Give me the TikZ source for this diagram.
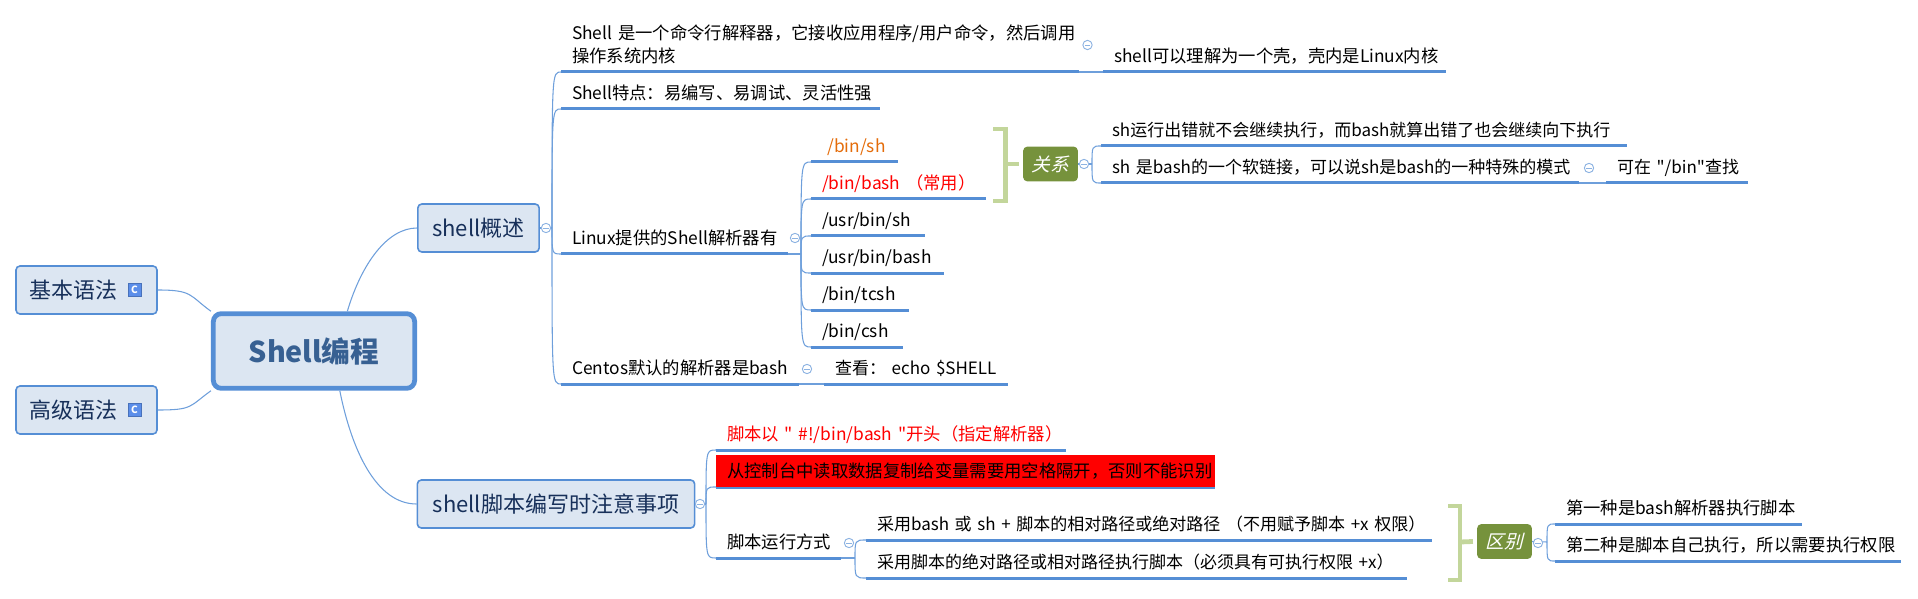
\documentclass[tikz,border=0pt]{standalone}
\usepackage{fontspec}
\setmainfont{Noto Sans CJK SC}
\newfontfamily\cjkfont{Noto Sans CJK SC}
\newfontfamily\slantcjk[FakeSlant=0.25]{Noto Sans CJK SC}
\usepackage{xcolor}
\usetikzlibrary{positioning}
\definecolor{boxfill}{HTML}{DCE6F2}
\definecolor{boxline}{HTML}{558ED5}
\definecolor{rootink}{HTML}{376092}
\definecolor{subjectink}{HTML}{17305A}
\definecolor{branchline}{HTML}{6E9FDB}
\definecolor{foldline}{HTML}{8DB3E2}
\definecolor{bracketgreen}{HTML}{C3D69B}
\definecolor{olive}{HTML}{76923C}
\definecolor{iconblue}{HTML}{5B8EEA}
\definecolor{shorange}{HTML}{E46C0A}
\tikzset{
  root/.style={draw=boxline,fill=boxfill,line width=3.6pt,rounded corners=6pt,inner sep=0pt,
    minimum width=151pt,minimum height=56pt,text=rootink,font=\fontsize{21.5}{24}\selectfont\bfseries},
  subject/.style={draw=boxline,fill=boxfill,line width=1.2pt,rounded corners=3pt,inner sep=0pt,
    minimum height=36pt,text=subjectink,font=\fontsize{16.5}{20}\selectfont},
  topic/.style={anchor=south west,inner xsep=8.25pt,inner ysep=7pt,outer sep=0pt,align=left,
    text width=#1*0.75pt-16.5pt,text depth=0pt,font=\cjkfont\fontsize{13}{17.25}\selectfont,
    append after command={\pgfextra{\draw[underline] (\tikzlastnode.south west) -- (\tikzlastnode.south east);}}},
  tight/.style={font=\cjkfont\fontsize{12.75}{17.25}\selectfont},
  underline/.style={draw=boxline,line width=2.25pt},
  branch/.style={draw=branchline,line width=0.8pt},
  elbow/.style={to path={.. controls (\tikztostart |- \tikztotarget) .. (\tikztotarget)}},
  fold/.style={circle,draw=foldline,fill=white,line width=0.7pt,minimum size=7pt,inner sep=0pt,
    path picture={\draw[foldline,line width=0.7pt] ([xshift=1.5pt]path picture bounding box.west) -- ([xshift=-1.5pt]path picture bounding box.east);}},
  icon/.style={draw=iconblue!80!black,fill=iconblue,line width=0.4pt,text=white,inner sep=0pt,
    minimum size=10pt,font=\fontsize{7.5}{8}\selectfont\bfseries},
  summary/.style={fill=olive,rounded corners=3pt,text=white,inner sep=0pt,minimum width=41pt,
    minimum height=26pt,font=\fontsize{14}{16}\slantcjk},
  bracket/.style={draw=bracketgreen,line width=3.6pt}
}
\begin{document}
\begin{tikzpicture}[x=0.75pt,y=-0.75pt]
\useasboundingbox (0,0) rectangle (1918,599);

\node[root] (shell) at (314,351) {Shell编程};
\node[subject,minimum width=105.75pt] (basic) at (86.5,290) {基本语法\hspace*{19pt}};
\node[icon] (basicicon) at (134.5,290) {C};
\node[subject,minimum width=105.75pt] (advanced) at (86.5,410) {高级语法\hspace*{19pt}};
\node[icon] (advancedicon) at (134.5,410) {C};
\node[subject,minimum width=91pt] (overview) at (478.5,228) {shell概述};
\node[subject,minimum width=208pt] (script) at (556,504) {shell脚本编写时注意事项};

\draw[branch] (basic.east) .. controls +(35,0) and +(-22,-16) .. (shell.north west);
\draw[branch] (advanced.east) .. controls +(35,0) and +(-22,16) .. (shell.south west);
\draw[branch] (shell.50) .. controls +(14,-47) and +(-30,0) .. (overview.west);
\draw[branch] (shell.-57) .. controls +(12,60) and +(-40,0) .. (script.west);

\node[topic=518,text depth=17.25pt] (what) at (561,72) {Shell 是一个命令行解释器，它接收应用程序/用户命令，然后调用\\操作系统内核};
\node[topic=343] (shellkid) at (1103,72) {shell可以理解为一个壳，壳内是Linux内核};
\node[topic=319] (feature) at (561,109) {Shell特点：易编写、易调试、灵活性强};
\node[topic=226.5] (linux) at (561,254) {Linux提供的Shell解析器有};
\node[topic=238] (centos) at (561,384) {Centos默认的解析器是bash};
\node[topic=183.5,tight] (view) at (824,384) {查看：~echo~\$SHELL};

\node[topic=87,text=shorange] (binsh) at (811,162) {\hspace*{4pt}/bin/sh};
\node[topic=175,text=red] (binbash) at (811,199) {/bin/bash~（常用）};
\node[topic=114] (usrsh) at (811,236) {/usr/bin/sh};
\node[topic=133] (usrbash) at (811,273) {/usr/bin/bash};
\node[topic=98] (tcsh) at (811,310) {/bin/tcsh};
\node[topic=91.5] (csh) at (811,347) {/bin/csh};

\node[summary] (relation) at (1050.5,164) {关系};
\node[topic=526,tight] (onerror) at (1101,146) {sh运行出错就不会继续执行，而bash就算出错了也会继续向下执行};
\node[topic=478,tight] (softlink) at (1101,183) {sh 是bash的一个软链接，可以说sh是bash的一种特殊的模式};
\node[topic=142,tight] (find) at (1606,183) {可在~"/bin"查找};

\node[topic=350,text=red] (shebang) at (716,450) {脚本以~"~\#!/bin/bash~"开头（指定解析器）};
\node[topic=499,fill=red,text height=10pt] (readvar) at (716,487) {从控制台中读取数据复制给变量需要用空格隔开，否则不能识别};
\node[topic=125] (runway) at (716,558) {脚本运行方式};
\node[topic=566,tight] (runbash) at (866,540) {采用bash~或~sh~+~脚本的相对路径或绝对路径~（不用赋予脚本~+x~权限）};
\node[topic=541,tight] (runself) at (866,578) {采用脚本的绝对路径或相对路径执行脚本（必须具有可执行权限~+x）};

\node[summary] (difference) at (1504.5,541.5) {区别};
\node[topic=247] (firstway) at (1555,524) {第一种是bash解析器执行脚本};
\node[topic=346] (secondway) at (1555,561) {第二种是脚本自己执行，所以需要执行权限};

\coordinate (overviewjoin) at (552,228);
\coordinate (linuxjoin) at (801,254);
\coordinate (relationjoin) at (1092,164);
\coordinate (scriptjoin) at (706,504);
\coordinate (runwayjoin) at (855,558);
\coordinate (differencejoin) at (1547,542);

\draw[branch] (overview.east) -- (overviewjoin);
\draw[branch] (overviewjoin) to[elbow] (what.south west);
\draw[branch] (overviewjoin) to[elbow] (feature.south west);
\draw[branch] (overviewjoin) to[elbow] (linux.south west);
\draw[branch] (overviewjoin) to[elbow] (centos.south west);
\draw[branch] (what.south east) -- (shellkid.south west);
\draw[branch] (centos.south east) -- (view.south west);

\draw[branch] (linux.south east) -- (linuxjoin);
\draw[branch] (linuxjoin) to[elbow] (binsh.south west);
\draw[branch] (linuxjoin) to[elbow] (binbash.south west);
\draw[branch] (linuxjoin) to[elbow] (usrsh.south west);
\draw[branch] (linuxjoin) to[elbow] (usrbash.south west);
\draw[branch] (linuxjoin) to[elbow] (tcsh.south west);
\draw[branch] (linuxjoin) to[elbow] (csh.south west);

\draw[branch] (relation.east) -- (relationjoin);
\draw[branch] (relationjoin) to[elbow] (onerror.south west);
\draw[branch] (relationjoin) to[elbow] (softlink.south west);
\draw[branch] (softlink.south east) -- (find.south west);

\draw[branch] (script.east) -- (scriptjoin);
\draw[branch] (scriptjoin) to[elbow] (shebang.south west);
\draw[branch] (scriptjoin) to[elbow] (readvar.south west);
\draw[branch] (scriptjoin) to[elbow] (runway.south west);
\draw[branch] (runway.south east) -- (runwayjoin);
\draw[branch] (runwayjoin) to[elbow] (runbash.south west);
\draw[branch] (runwayjoin) to[elbow] (runself.south west);

\draw[branch] (difference.east) -- (differencejoin);
\draw[branch] (differencejoin) to[elbow] (firstway.south west);
\draw[branch] (differencejoin) to[elbow] (secondway.south west);

\coordinate (relationtop) at (993,129);
\coordinate (relationfoot) at (993,201);
\coordinate (relationstem) at (1005.5,164);
\draw[bracket] (relationtop) -| (relationstem) |- (relationfoot);
\draw[bracket] (relationstem) -- ([xshift=-3.3pt]relation.west);

\coordinate (differencetop) at (1448,506);
\coordinate (differencefoot) at (1448,580);
\coordinate (differencestem) at (1460,542);
\draw[bracket] (differencetop) -| (differencestem) |- (differencefoot);
\draw[bracket] (differencestem) -- ([xshift=-3pt]difference.west);

\node[fold] (overviewfold) at (546,228) {};
\node[fold] (whatfold) at (1087.5,45) {};
\node[fold] (linuxfold) at (795,238) {};
\node[fold] (centosfold) at (807,369) {};
\node[fold] (relationfold) at (1084,164) {};
\node[fold] (softlinkfold) at (1589,168) {};
\node[fold] (scriptfold) at (700,504) {};
\node[fold] (runwayfold) at (849,543) {};
\node[fold] (differencefold) at (1538,543) {};
\end{tikzpicture}
\end{document}
